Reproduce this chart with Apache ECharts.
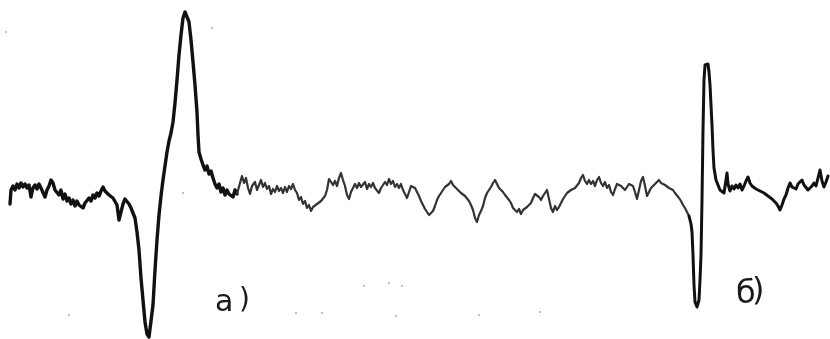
<!DOCTYPE html>
<html>
<head>
<meta charset="utf-8">
<style>
  html, body { margin: 0; padding: 0; background: #fff; }
  #trace { width: 830px; height: 339px; }
</style>
<script src="https://cdn.jsdelivr.net/npm/echarts@6/dist/echarts.min.js"></script>
</head>
<body>
<div id="trace"></div>
<script>
// trace: [field position, deflection] (deflection grows downwards)
const leftTrace = [
  [10, 204], [11, 190], [13, 186], [15, 190], [17, 184], [19, 188], [21, 183], [23, 187], [25, 184], [27, 188],
  [29, 185], [31, 197], [33, 188], [35, 185], [37, 189], [39, 184], [41, 188], [43, 186], [45, 197], [47, 190],
  [49, 186], [51, 180], [53, 183], [55, 190], [57, 188], [59, 195], [61, 190], [63, 199], [65, 194], [67, 201],
  [69, 198], [71, 204], [73, 200], [75, 206], [77, 201], [79, 205], [81, 203], [83, 208], [85, 203], [87, 201],
  [89, 198], [91, 201], [93, 195], [95, 198], [97, 193], [99, 196], [101, 191], [103, 187], [105, 191], [107, 189],
  [109, 195], [111, 193], [113, 198], [115, 196], [117, 205], [119, 220], [121, 212], [123, 204], [125, 199], [127, 201],
  [129, 204], [131, 208], [133, 210], [135, 218], [137, 232], [139, 250], [141, 278], [143, 300], [145, 322], [147, 334],
  [149, 337], [151, 335], [153, 305], [155, 270], [157, 240], [159, 215], [161, 196], [163, 180], [165, 166], [167, 152],
  [169, 141], [171, 133], [173, 122], [175, 103], [177, 80], [179, 55], [181, 35], [183, 18], [185, 12], [187, 14],
  [189, 22], [191, 40], [193, 62], [195, 85], [197, 112], [198, 135], [199, 152], [201, 159], [203, 165], [205, 170],
  [207, 166], [209, 174], [211, 171], [213, 178], [215, 184], [217, 188], [219, 184], [221, 192], [223, 188], [225, 195],
  [227, 190], [229, 194], [231, 192], [233, 197], [235, 190], [237, 194]
];

const midTrace = [
  [237, 194], [240, 183], [242, 176], [244, 183], [246, 178], [248, 188], [250, 194], [252, 186], [255, 182], [257, 190],
  [259, 185], [261, 180], [263, 187], [265, 183], [267, 189], [269, 186], [271, 194], [273, 189], [275, 192], [277, 186],
  [279, 191], [281, 188], [283, 193], [285, 187], [287, 192], [289, 186], [291, 189], [293, 184], [295, 190], [297, 193],
  [299, 200], [301, 197], [303, 204], [305, 201], [307, 208], [309, 205], [311, 211], [313, 207], [315, 209], [317, 204],
  [319, 206], [321, 201], [323, 203], [325, 196], [327, 190], [329, 179], [331, 177], [333, 185], [335, 181], [337, 186],
  [339, 178], [341, 173], [343, 180], [345, 186], [347, 195], [349, 199], [351, 192], [353, 188], [355, 184], [357, 188],
  [359, 183], [361, 187], [363, 185], [365, 182], [367, 189], [369, 184], [371, 187], [373, 183], [375, 188], [377, 186],
  [379, 193], [381, 188], [383, 186], [385, 182], [387, 185], [389, 179], [391, 184], [393, 181], [395, 187], [397, 184],
  [399, 188], [401, 184], [403, 190], [405, 194], [407, 198], [409, 192], [411, 186], [413, 184], [415, 188], [417, 192],
  [419, 196], [421, 201], [423, 205], [425, 209], [427, 207], [429, 215], [431, 217], [433, 211], [435, 206], [437, 200],
  [439, 196], [441, 193], [443, 190], [445, 187], [447, 189], [449, 184], [451, 181], [453, 185], [455, 183], [457, 189],
  [459, 187], [461, 193], [463, 191], [465, 196], [467, 195], [469, 201], [471, 205], [473, 210], [475, 218], [477, 222],
  [479, 215], [481, 211], [483, 206], [485, 198], [487, 193], [489, 190], [491, 187], [493, 183], [495, 180], [497, 182],
  [499, 188], [501, 186], [503, 192], [505, 195], [507, 197], [509, 200], [511, 203], [513, 208], [515, 210], [517, 212],
  [519, 209], [521, 214], [523, 210], [525, 212], [527, 207], [529, 205], [531, 203], [533, 198], [535, 194], [537, 192],
  [539, 197], [541, 200], [543, 196], [545, 193], [547, 190], [549, 199], [551, 208], [553, 212], [555, 206], [557, 210],
  [559, 207], [561, 203], [563, 199], [565, 197], [567, 193], [569, 195], [571, 190], [573, 192], [575, 188], [577, 186],
  [579, 183], [581, 178], [583, 175], [585, 181], [587, 184], [589, 180], [591, 184], [593, 181], [595, 186], [597, 180],
  [599, 177], [601, 183], [603, 186], [605, 182], [607, 188], [609, 185], [611, 192], [613, 195], [615, 189], [617, 184],
  [619, 182], [621, 186], [623, 184], [625, 190], [627, 187], [629, 184], [631, 182], [633, 186], [635, 192], [637, 199],
  [639, 190], [641, 181], [643, 177], [645, 186], [647, 196], [649, 192], [651, 188], [653, 186], [655, 184], [657, 182],
  [659, 180], [661, 183], [663, 181], [665, 185], [667, 184], [669, 188], [671, 186], [673, 190], [675, 193], [677, 195],
  [679, 198], [681, 201], [683, 205], [685, 208], [687, 212], [689, 216]
];

const rightTrace = [
  [689, 216], [691, 224], [692, 232], [693, 255], [694, 285], [695, 302], [697, 307], [699, 300], [700, 280], [701, 255],
  [702, 200], [703, 130], [704, 80], [705, 65], [707, 63], [708, 64], [709, 72], [710, 85], [711, 105], [712, 125],
  [713, 150], [714, 168], [716, 180], [718, 185], [720, 190], [722, 188], [724, 193], [726, 180], [727, 173], [728, 184],
  [730, 191], [732, 186], [734, 189], [736, 185], [738, 188], [740, 184], [742, 190], [744, 186], [746, 181], [748, 177],
  [750, 183], [752, 186], [754, 184], [756, 189], [758, 187], [760, 191], [762, 189], [764, 193], [766, 191], [768, 196],
  [770, 194], [772, 199], [774, 197], [776, 203], [778, 206], [780, 210], [782, 205], [784, 199], [786, 195], [788, 188],
  [790, 183], [792, 187], [794, 185], [796, 189], [798, 184], [800, 182], [802, 180], [804, 185], [806, 187], [808, 190],
  [810, 192], [812, 186], [814, 183], [816, 186], [818, 178], [820, 170], [822, 181], [824, 187], [826, 182], [828, 176]
];

// stray dust specks on the scan
const specks = [
  [6, 32], [212, 28], [69, 315], [183, 193], [296, 313], [322, 313], [364, 286],
  [389, 283], [396, 316], [402, 286], [479, 315], [540, 312]
];

const panelLabels = ['а)', 'б)'];

const chart = echarts.init(document.getElementById('trace'));

const lineSeries = (data, width, color) => ({
  type: 'line',
  data: data,
  symbol: 'none',
  silent: true,
  animation: false,
  lineStyle: { width: width, color: color, join: 'round', cap: 'round' }
});

const txt = (s, x, y, size) => ({
  type: 'text', left: x, top: y, silent: true,
  style: { text: s, fontSize: size, fontFamily: 'DejaVu Sans', fill: '#1a1a1a' }
});

chart.setOption({
  backgroundColor: '#fff',
  animation: false,
  grid: { left: 0, right: 0, top: 0, bottom: 0 },
  xAxis: { type: 'value', min: 0, max: 830, show: false },
  yAxis: { type: 'value', min: 0, max: 339, inverse: true, show: false },
  series: [
    lineSeries(leftTrace, 3.4, '#111'),
    lineSeries(midTrace, 2.2, '#333'),
    lineSeries(rightTrace, 3, '#111'),
    {
      type: 'scatter',
      data: specks,
      symbolSize: 2,
      silent: true,
      itemStyle: { color: '#999' }
    }
  ],
  // letter big, bracket separate, like the plotter lettering
  graphic: [
    txt(panelLabels[0][0], 215, 288, 30),
    txt(panelLabels[0].slice(1), 239, 287, 28),
    txt(panelLabels[1][0], 736, 279, 32),
    txt(panelLabels[1].slice(1), 752, 276, 32)
  ]
});
</script>
</body>
</html>
